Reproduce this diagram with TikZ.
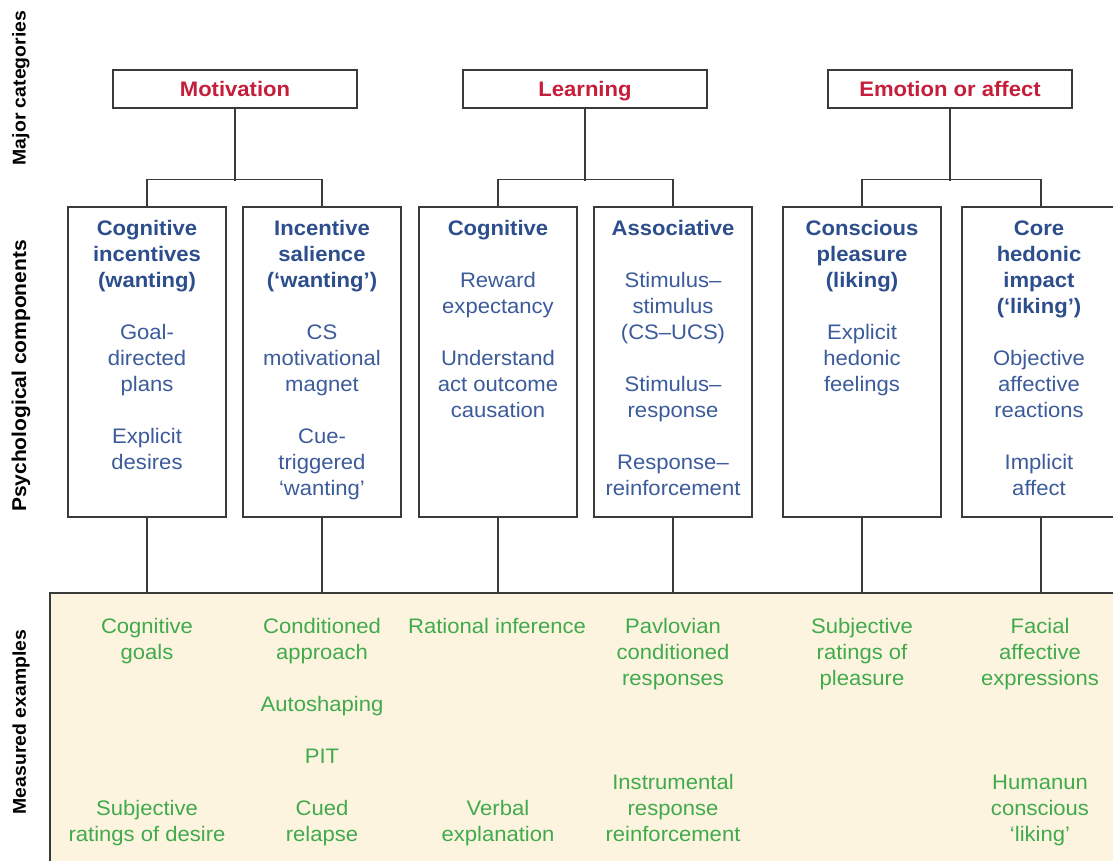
\documentclass[tikz,border=0pt]{standalone}
\usepackage{fontspec}
\setmainfont{Liberation Sans}[FakeStretch=1.05]
\definecolor{redc}{HTML}{C41E3A}
\definecolor{bluehd}{HTML}{2D4E8C}
\definecolor{bluebd}{HTML}{3B5B9A}
\definecolor{greenc}{HTML}{40AA4C}
\definecolor{yellowbg}{HTML}{FDF4DF}
\definecolor{linec}{HTML}{3A3A3A}
\tikzset{
  every node/.style={font=\fontsize{21}{26}\selectfont},
  catbox/.style={draw=linec, line width=1.3pt, fill=white, minimum width=244pt, minimum height=38pt, inner sep=0pt, text height=15pt, text depth=0pt, text=redc, font=\fontsize{21}{26}\selectfont\bfseries},
  compbox/.style={draw=linec, line width=1.3pt, fill=white, minimum width=158pt, minimum height=310pt, inner sep=0pt},
  conn/.style={draw=linec, line width=1.3pt},
  headtxt/.style={anchor=base, inner sep=0pt, text=bluehd, font=\fontsize{21}{26}\selectfont\bfseries},
  bodytxt/.style={anchor=base, inner sep=0pt, text=bluebd},
  greentxt/.style={anchor=base, inner sep=0pt, text=greenc},
  sidelabel/.style={rotate=90, inner sep=0pt, text=black, font=\fontsize{18.5}{22}\selectfont\bfseries}
}
\begin{document}
\begin{tikzpicture}[x=1pt, y=-1pt]
\useasboundingbox (0,0) rectangle (1113,861);
\clip (0,0) rectangle (1113,861);
\fill[white] (0,0) rectangle (1113,861);

% measured examples region
\node[fill=yellowbg, minimum width=1080pt, minimum height=290pt, inner sep=0pt, anchor=north west] (ex) at (50,593) {};
\draw[conn] (ex.south west) -- (ex.north west) -- (ex.north east);

% side labels
\node[sidelabel] (lab1) at (21,88) {Major categories};
\node[sidelabel, font=\fontsize{20}{24}\selectfont\bfseries] (lab2) at (21,376) {Psychological components};
\node[sidelabel] (lab3) at (21,722) {Measured examples};

% major categories
\node[catbox] (m) at (235,89) {Motivation};
\node[catbox] (l) at (585,89) {Learning};
\node[catbox] (e) at (950,89) {Emotion or affect};

% component boxes
\node[compbox] (c1) at (147,362) {};
\node[compbox] (c2) at (322,362) {};
\node[compbox] (c3) at (498,362) {};
\node[compbox] (c4) at (673,362) {};
\node[compbox] (c5) at (862,362) {};
\node[compbox] (c6) at (1041,362) {};

% tree connectors
\draw[conn] (m.south) -- ++(0,72);
\draw[conn] (c1.north) -- ++(0,-27) -| (c2.north);
\draw[conn] (l.south) -- ++(0,72);
\draw[conn] (c3.north) -- ++(0,-27) -| (c4.north);
\draw[conn] (e.south) -- ++(0,72);
\draw[conn] (c5.north) -- ++(0,-27) -| (c6.north);
\foreach \c in {c1,c2,c3,c4,c5,c6}
  \draw[conn] (\c.south) -- (\c.south |- ex.north);

% component headings
\foreach \x/\k/\t [count=\i] in {
  147/0/Cognitive, 147/1/incentives, 147/2/{(wanting)},
  322/0/Incentive, 322/1/salience, 322/2/{(‘wanting’)},
  498/0/Cognitive,
  673/0/Associative,
  862/0/Conscious, 862/1/pleasure, 862/2/{(liking)},
  1039/0/Core, 1039/1/hedonic, 1039/2/impact, 1039/3/{(‘liking’)}}
  \node[headtxt] (h\i) at (\x,{235+26*\k}) {\t};

% component bodies
\foreach \x/\k/\t [count=\i] in {
  147/4/Goal-, 147/5/directed, 147/6/plans, 147/8/Explicit, 147/9/desires,
  322/4/CS, 322/5/motivational, 322/6/magnet, 322/8/Cue-, 322/9/triggered, 322/10/‘wanting’,
  498/2/Reward, 498/3/expectancy, 498/5/Understand, 498/6/act outcome, 498/7/causation,
  673/2/Stimulus–, 673/3/stimulus, 673/4/{(CS–UCS)}, 673/6/Stimulus–, 673/7/response, 673/9/Response–, 673/10/reinforcement,
  862/4/Explicit, 862/5/hedonic, 862/6/feelings,
  1039/5/Objective, 1039/6/affective, 1039/7/reactions, 1039/9/Implicit, 1039/10/affect}
  \node[bodytxt] (t\i) at (\x,{235+26*\k}) {\t};

% measured examples
\foreach \x/\k/\t [count=\i] in {
  147/0/Cognitive, 147/1/goals, 147/7/Subjective, 147/8/ratings of desire,
  322/0/Conditioned, 322/1/approach, 322/3/Autoshaping, 322/5/PIT, 322/7/Cued, 322/8/relapse,
  497/0/Rational inference, 498/7/Verbal, 498/8/explanation,
  673/0/Pavlovian, 673/1/conditioned, 673/2/responses, 673/6/Instrumental, 673/7/response, 673/8/reinforcement,
  862/0/Subjective, 862/1/ratings of, 862/2/pleasure,
  1040/0/Facial, 1040/1/affective, 1040/2/expressions, 1040/6/Humanun, 1040/7/conscious, 1040/8/‘liking’}
  \node[greentxt] (g\i) at (\x,{633+26*\k}) {\t};
\end{tikzpicture}
\end{document}
